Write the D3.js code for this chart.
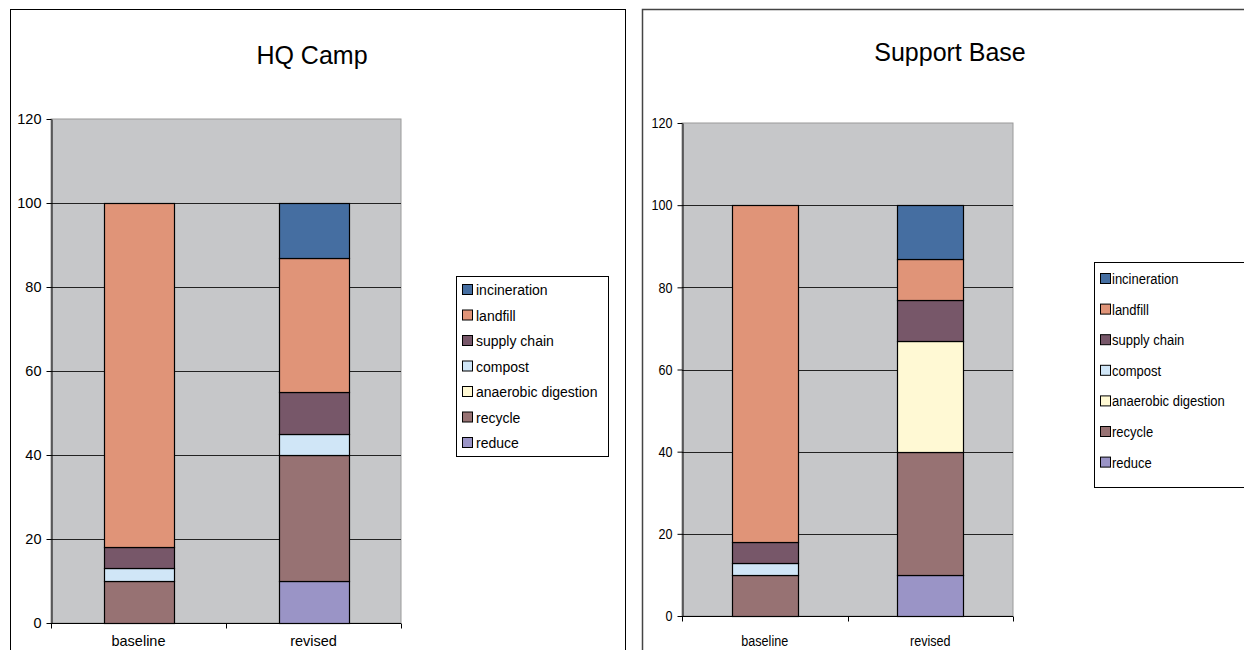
<!DOCTYPE html>
<html>
<head>
<meta charset="utf-8">
<script src="https://cdn.jsdelivr.net/npm/d3@7"></script>
<style>
  html, body { margin: 0; padding: 0; background: #fff; }
  svg { display: block; }
</style>
</head>
<body>
<svg id="chart" width="1244" height="650"></svg>
<script>
// Waste streams, stacked bottom to top
const streams = ["reduce", "recycle", "anaerobic digestion", "compost", "supply chain", "landfill", "incineration"];
const streamColors = ["#9a94c6", "#977273", "#fff9d4", "#d0e6f7", "#775769", "#e09478", "#456ea1"];
const scenarios = ["baseline", "revised"];
const yTicks = [0, 20, 40, 60, 80, 100, 120];

// HQ Camp: values per stream for [baseline, revised]
const hqReduce      = [0, 10];
const hqRecycle     = [10, 30];
const hqAnaerobic   = [0, 0];
const hqCompost     = [3, 5];
const hqSupplyChain = [5, 10];
const hqLandfill    = [82, 32];
const hqIncineration= [0, 13];

// Support Base: values per stream for [baseline, revised]
const sbReduce      = [0, 10];
const sbRecycle     = [10, 30];
const sbAnaerobic   = [0, 27];
const sbCompost     = [3, 0];
const sbSupplyChain = [5, 10];
const sbLandfill    = [82, 10];
const sbIncineration= [0, 13];

function buildRows(cols) {
  return scenarios.map((s, i) => {
    const row = { scenario: s };
    streams.forEach((k, j) => row[k] = cols[j][i]);
    return row;
  });
}

const hqRows = buildRows([hqReduce, hqRecycle, hqAnaerobic, hqCompost, hqSupplyChain, hqLandfill, hqIncineration]);
const sbRows = buildRows([sbReduce, sbRecycle, sbAnaerobic, sbCompost, sbSupplyChain, sbLandfill, sbIncineration]);

const svg = d3.select("#chart");
const color = d3.scaleOrdinal().domain(streams).range(streamColors);
const FONT = "'Liberation Sans', Arial, sans-serif";

// horizontally condense a text element about its own anchor point
function squeeze(sel, s) {
  if (s === 1) return;
  sel.each(function () {
    const t = d3.select(this);
    const x = +t.attr("x") || 0, y = +t.attr("y") || 0;
    t.attr("transform", `translate(${x},${y}) scale(${s},1) translate(${-x},${-y})`);
  });
}

function panel(opt) {
  const g = svg.append("g");

  // chart frame
  g.append("rect")
    .attr("x", opt.frame[0] + 0.5).attr("y", opt.frame[1] + 0.5)
    .attr("width", opt.frame[2]).attr("height", opt.frame[3])
    .attr("fill", "#fff").attr("stroke", opt.frameStroke).attr("stroke-width", opt.frameWidth);

  // title
  g.append("text")
    .attr("x", opt.titleX).attr("y", opt.titleY)
    .attr("text-anchor", "middle")
    .attr("font-family", FONT)
    .attr("font-size", 25)
    .attr("fill", "#000")
    .text(opt.title);

  const [x0, x1] = opt.xRange, [y0, y1] = opt.yRange;
  const x = d3.scaleBand().domain(scenarios).range([x0, x1]).paddingInner(0.6).paddingOuter(0.3);
  const y = d3.scaleLinear().domain([0, 120]).range([y0, y1]);

  // plot background
  g.append("rect")
    .attr("x", x0).attr("y", y1).attr("width", x1 - x0).attr("height", y0 - y1)
    .attr("fill", "#c6c7c9").attr("stroke", "#9a9a9a").attr("stroke-width", 1);

  // gridlines
  g.append("g").selectAll("line").data(yTicks.filter(t => t > 0 && t < 120)).join("line")
    .attr("x1", x0).attr("x2", x1)
    .attr("y1", d => Math.round(y(d)) + 0.5).attr("y2", d => Math.round(y(d)) + 0.5)
    .attr("stroke", "#222").attr("stroke-width", 1);

  // stacked bars
  const stacked = d3.stack().keys(streams)(opt.rows);
  g.append("g").selectAll("g").data(stacked).join("g")
    .attr("fill", d => color(d.key))
    .selectAll("rect").data(d => d.filter(p => p[1] - p[0] > 0)).join("rect")
    .attr("x", d => Math.round(x(d.data.scenario)) + 0.5)
    .attr("width", Math.round(x.bandwidth()))
    .attr("y", d => Math.round(y(d[1])) + 0.5)
    .attr("height", d => Math.round(y(d[0])) - Math.round(y(d[1])))
    .attr("stroke", "#000").attr("stroke-width", 1.2);

  // y axis
  const yAxis = g.append("g")
    .attr("transform", `translate(${x0 + 0.5},0)`)
    .call(d3.axisLeft(y).tickValues(yTicks).tickSize(5).tickSizeOuter(0).tickPadding(5));
  yAxis.select(".domain").attr("stroke", "#000");
  yAxis.selectAll(".tick line").attr("stroke", "#000");
  yAxis.selectAll("text")
    .attr("font-family", FONT).attr("font-size", opt.tickSize).attr("fill", "#000")
    .call(squeeze, opt.squeeze);

  // x axis with category separators
  const xAxis = g.append("g").attr("transform", `translate(0,${Math.round(y0) + 0.5})`);
  xAxis.append("line").attr("x1", x0).attr("x2", x1).attr("stroke", "#000");
  const bounds = [x0, (x0 + x1) / 2, x1];
  xAxis.selectAll("line.sep").data(bounds).join("line").attr("class", "sep")
    .attr("x1", d => Math.round(d) + 0.5).attr("x2", d => Math.round(d) + 0.5)
    .attr("y1", 0).attr("y2", 5).attr("stroke", "#000");
  xAxis.selectAll("text").data(scenarios).join("text")
    .attr("x", d => x(d) + x.bandwidth() / 2)
    .attr("y", opt.catY)
    .attr("text-anchor", "middle")
    .attr("font-family", FONT).attr("font-size", opt.tickSize).attr("fill", "#000")
    .text(d => d)
    .call(squeeze, opt.squeeze);

  // legend
  const L = opt.legend;
  g.append("rect")
    .attr("x", L.x + 0.5).attr("y", L.y + 0.5).attr("width", L.w).attr("height", L.h)
    .attr("fill", "#fff").attr("stroke", "#000");
  const items = g.append("g").selectAll("g").data(streams.slice().reverse()).join("g")
    .attr("transform", (d, i) => `translate(${L.x + L.sx},${L.y + L.first + i * L.step})`);
  items.append("rect")
    .attr("x", 0.5).attr("y", -5.5).attr("width", 10).attr("height", 10)
    .attr("fill", d => color(d)).attr("stroke", "#000");
  items.append("text")
    .attr("x", L.tx).attr("y", 5)
    .attr("font-family", FONT).attr("font-size", L.size).attr("fill", "#000")
    .text(d => d)
    .call(squeeze, opt.squeeze);
}

panel({
  title: "HQ Camp", titleX: 312, titleY: 64,
  frame: [10, 9, 615, 660], frameStroke: "#000", frameWidth: 1,
  xRange: [51, 401], yRange: [623, 119],
  rows: hqRows, tickSize: 14.5, catY: 22, squeeze: 1,
  legend: { x: 456, y: 276, w: 152, h: 180, sx: 6, first: 14, step: 25.5, tx: 14, size: 14 }
});

panel({
  title: "Support Base", titleX: 950, titleY: 61,
  frame: [642, 9, 620, 660], frameStroke: "#444", frameWidth: 1.5,
  xRange: [682, 1013], yRange: [616, 123],
  rows: sbRows, tickSize: 15, catY: 30, squeeze: 0.84,
  legend: { x: 1094, y: 262, w: 160, h: 225, sx: 6, first: 17, step: 30.6, tx: 12, size: 15.5 }
});
</script>
</body>
</html>
